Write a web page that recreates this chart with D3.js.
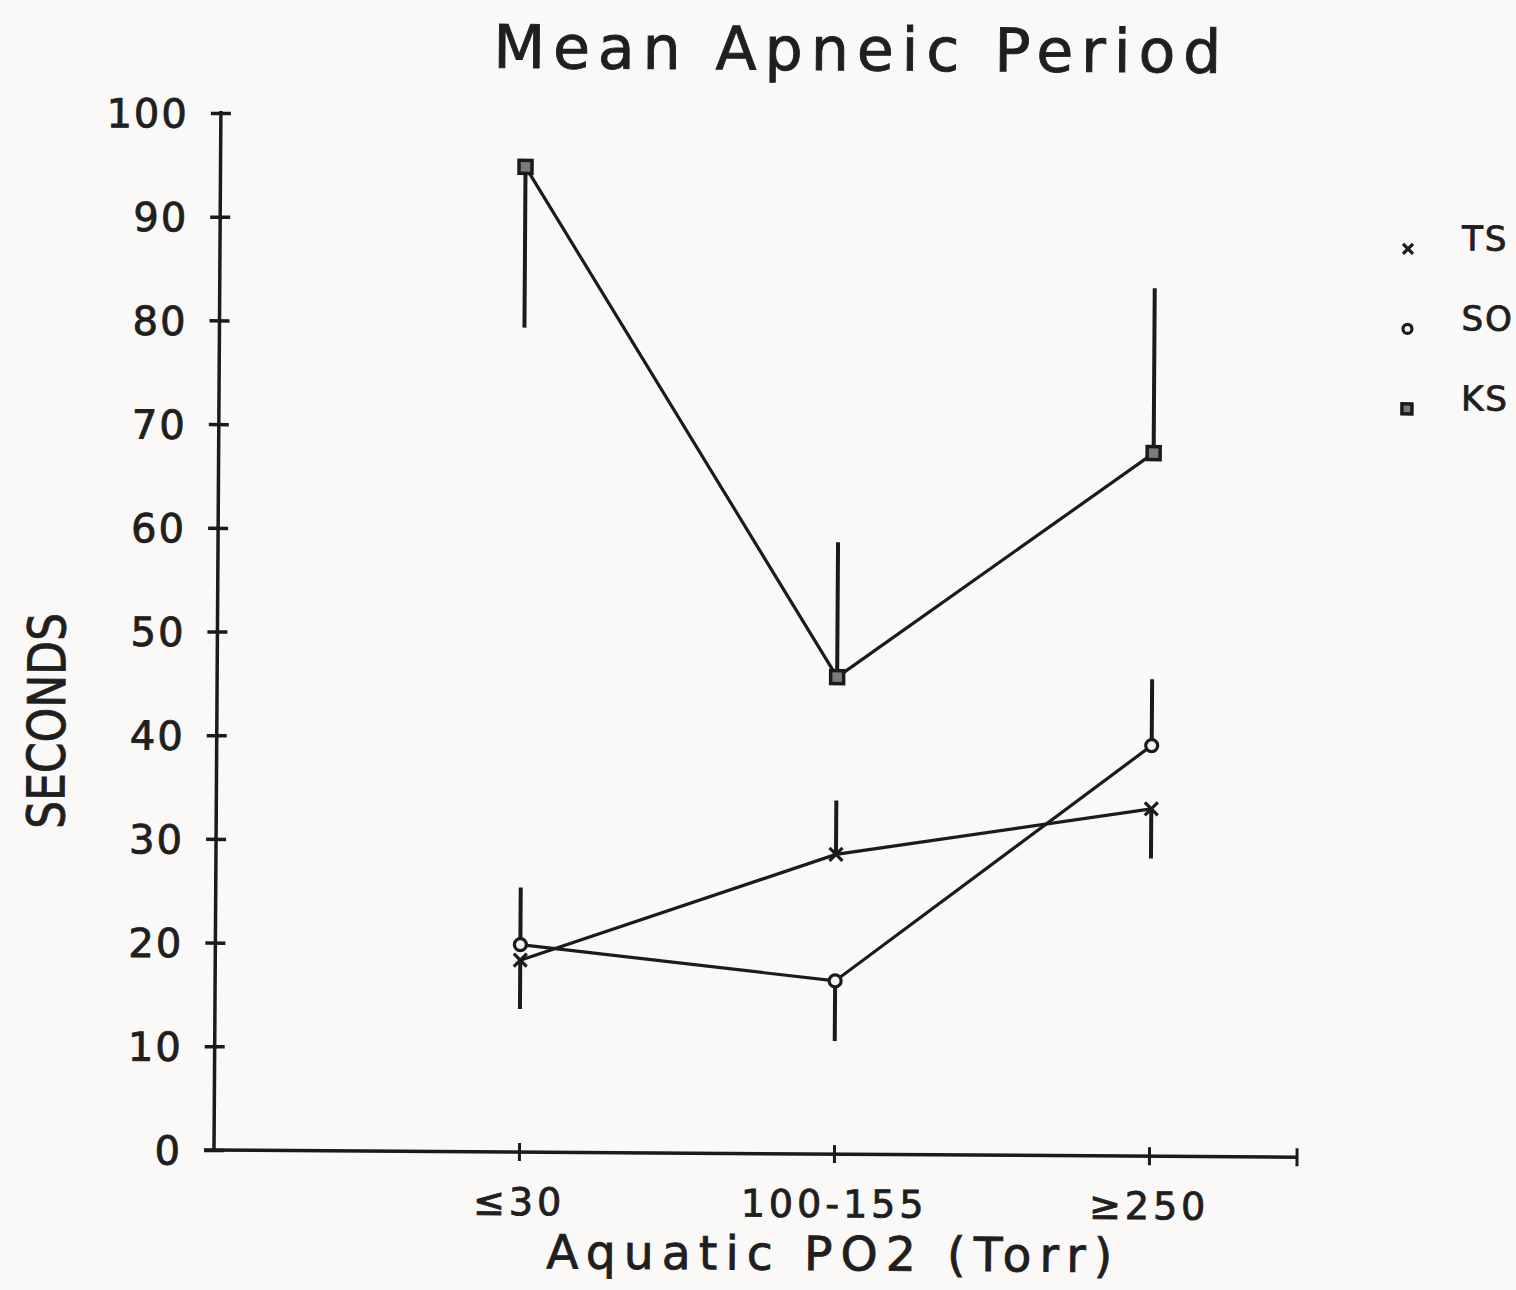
<!DOCTYPE html>
<html>
<head>
<meta charset="utf-8">
<script src="https://cdnjs.cloudflare.com/ajax/libs/d3/7.8.5/d3.min.js"></script>
<style>
  html, body { margin: 0; padding: 0; background: #fbf9f7; }
  svg { display: block; }
  text { font-family: "DejaVu Sans", sans-serif; fill: #1f1f1f; stroke: #1f1f1f; stroke-width: 0.9px; }
</style>
</head>
<body>
<svg id="chart" width="1516" height="1290"></svg>
<script>
// Oxygen treatment groups along the x axis
const categories = ["≤30", "100-155", "≥250"];
const categoryPos = [1, 2, 3];

// Y axis ticks (seconds)
const yTicks = [0, 10, 20, 30, 40, 50, 60, 70, 80, 90, 100];

// Species codes shown in the legend
const seriesNames = ["TS", "SO", "KS"];

// Mean apneic period (s) per treatment, and the end value of each error bar
const tsMean = [18.5, 28.9, 33.5];
const tsBarEnd = [13.8, 34.1, 28.7];
const soMean = [20.0, 16.7, 39.6];
const soBarEnd = [25.5, 10.9, 46.0];
const ksMean = [95.0, 46.0, 67.8];
const ksBarEnd = [79.5, 59.0, 83.7];

const series = [
  { name: seriesNames[0], symbol: "cross", mean: tsMean, bar: tsBarEnd },
  { name: seriesNames[1], symbol: "circle", mean: soMean, bar: soBarEnd },
  { name: seriesNames[2], symbol: "square", mean: ksMean, bar: ksBarEnd }
];

const ink = "#1b1b1b";
const svg = d3.select("#chart");

// The whole plot sits slightly skewed on the page
const ox = 214, oy = 1150;
const root = svg.append("g").attr("transform", `rotate(0.38, ${ox}, ${oy})`);

const x = d3.scaleLinear().domain([0, 3.47]).range([ox - 10, ox - 10 + 315 * 3.47]);
const y = d3.scaleLinear().domain([0, 100]).range([oy, 113]);

// Title
root.append("text")
  .attr("x", 850).attr("y", 66)
  .attr("text-anchor", "middle")
  .attr("font-size", 60)
  .attr("textLength", 728).attr("lengthAdjust", "spacing")
  .text("Mean Apneic Period");

// Y axis
const yAxis = root.append("g")
  .attr("transform", `translate(${ox},0)`)
  .call(d3.axisLeft(y).tickValues(yTicks).tickSize(10).tickPadding(22).tickFormat(d3.format("d")));
yAxis.select(".domain").remove();
yAxis.append("line")
  .attr("x1", 0).attr("x2", 0).attr("y1", y(100) - 2).attr("y2", y(0) + 2)
  .attr("stroke", ink).attr("stroke-width", 3.5);
yAxis.selectAll(".tick line").attr("x1", 10).attr("stroke", ink).attr("stroke-width", 3.5);
yAxis.selectAll(".tick text")
  .attr("font-size", 40).attr("letter-spacing", 2)
  .attr("dy", "0.36em")
  .attr("font-family", "DejaVu Sans").attr("fill", ink);

// X axis
const xAxis = root.append("g")
  .attr("transform", `translate(0,${oy})`)
  .call(d3.axisBottom(x).tickValues(categoryPos).tickSize(9)
    .tickPadding(27).tickFormat((d, i) => categories[i]));
xAxis.select(".domain").remove();
xAxis.append("line")
  .attr("x1", x(0)).attr("x2", x(3.47)).attr("y1", 0).attr("y2", 0)
  .attr("stroke", ink).attr("stroke-width", 3.5);
xAxis.append("line")
  .attr("x1", x(3.47)).attr("x2", x(3.47)).attr("y1", -9).attr("y2", 9)
  .attr("stroke", ink).attr("stroke-width", 3);
xAxis.selectAll(".tick line").attr("y1", -9).attr("stroke", ink).attr("stroke-width", 3);
xAxis.selectAll(".tick text")
  .attr("font-size", 38).attr("letter-spacing", 4)
  .attr("font-family", "DejaVu Sans").attr("fill", ink);

// Axis titles
root.append("text")
  .attr("x", 830).attr("y", 1266)
  .attr("text-anchor", "middle")
  .attr("font-size", 47)
  .attr("textLength", 566).attr("lengthAdjust", "spacing")
  .text("Aquatic PO2 (Torr)");

root.append("text")
  .attr("transform", "translate(62,722) rotate(-90)")
  .attr("text-anchor", "middle")
  .attr("font-size", 52)
  .attr("textLength", 216).attr("lengthAdjust", "spacingAndGlyphs")
  .text("SECONDS");

// Marker drawing
function drawSymbol(g, kind, cx, cy, s) {
  if (kind === "cross") {
    g.append("path")
      .attr("d", `M${cx - s},${cy - s}L${cx + s},${cy + s}M${cx - s},${cy + s}L${cx + s},${cy - s}`)
      .attr("stroke", ink).attr("stroke-width", 3.2).attr("fill", "none");
  } else if (kind === "circle") {
    g.append("circle").attr("cx", cx).attr("cy", cy).attr("r", s)
      .attr("stroke", ink).attr("stroke-width", 3.2).attr("fill", "#f4f2f0");
  } else {
    g.append("rect").attr("x", cx - s).attr("y", cy - s)
      .attr("width", 2 * s).attr("height", 2 * s)
      .attr("stroke", ink).attr("stroke-width", 3.5).attr("fill", "#7a7a7a");
  }
}

const line = d3.line().x((d, i) => x(categoryPos[i])).y(d => y(d));
const plot = root.append("g");

series.forEach(s => {
  // error bars (one-sided)
  plot.selectAll(null).data(s.mean).join("line")
    .attr("x1", (d, i) => x(categoryPos[i])).attr("x2", (d, i) => x(categoryPos[i]))
    .attr("y1", d => y(d)).attr("y2", (d, i) => y(s.bar[i]))
    .attr("stroke", ink).attr("stroke-width", 4);
  // connecting line
  plot.append("path").datum(s.mean)
    .attr("d", line).attr("fill", "none")
    .attr("stroke", ink).attr("stroke-width", 3.2);
});
series.forEach(s => {
  const size = s.symbol === "cross" ? 6.5 : s.symbol === "circle" ? 6 : 6.5;
  s.mean.forEach((v, i) => drawSymbol(plot, s.symbol, x(categoryPos[i]), y(v), size));
});

// Legend
const legend = root.append("g");
series.forEach((s, i) => {
  const ly = 241 + i * 80;
  drawSymbol(legend, s.symbol, 1402, ly, s.symbol === "cross" ? 5 : s.symbol === "circle" ? 4.5 : 5);
  legend.append("text")
    .attr("x", 1456).attr("y", ly + 1)
    .attr("font-size", 34)
    .attr("letter-spacing", 2)
    .text(s.name);
});
</script>
</body>
</html>
